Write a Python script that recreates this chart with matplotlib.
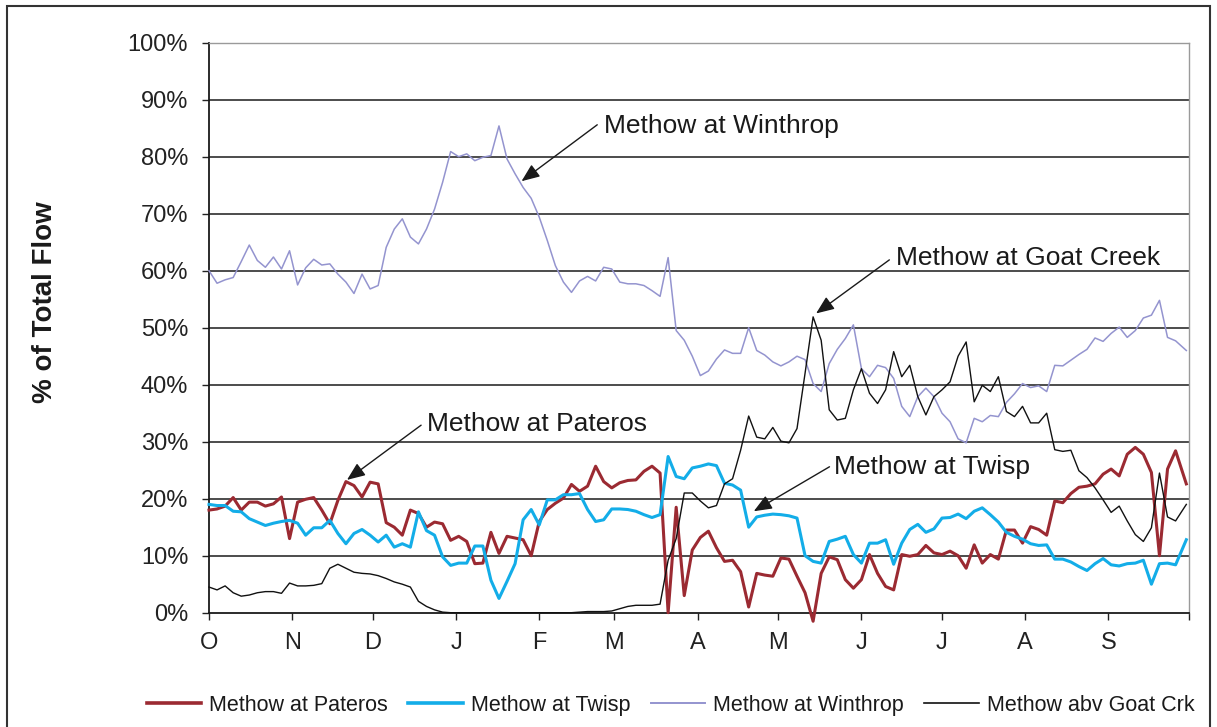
import matplotlib
matplotlib.use("Agg")
import matplotlib.pyplot as plt
from matplotlib.lines import Line2D
from matplotlib.patches import Rectangle

plt.rcParams['font.family'] = ['Liberation Sans', 'DejaVu Sans']

# ---------------- data (day of water year, % of total flow) ----------------
days = list(range(0, 361, 3)) + [364]

month_starts = [0, 31, 61, 92, 123, 151, 182, 212, 243, 273, 304, 335, 365]
month_labels = ['O', 'N', 'D', 'J', 'F', 'M', 'A', 'M', 'J', 'J', 'A', 'S', '']
ytick_vals = [0, 10, 20, 30, 40, 50, 60, 70, 80, 90, 100]
ytick_labels = ['0%', '10%', '20%', '30%', '40%', '50%', '60%', '70%', '80%', '90%', '100%']

pateros = [18, 18.2, 18.7, 20.2, 18, 19.4, 19.4, 18.7, 19.1, 20.3,
           13, 19.4, 19.9, 20.2, 18, 15.6, 19.7, 23, 22.3, 20.3,
           22.9, 22.6, 15.8, 15, 13.6, 18, 17.4, 15, 15.9, 15.6,
           12.7, 13.4, 12.5, 8.6, 8.7, 14.1, 10.4, 13.4, 13.1, 12.8,
           10, 16, 18.1, 19.2, 20.1, 22.5, 21.3, 22.2, 25.7, 23,
           21.9, 22.8, 23.2, 23.3, 24.8, 25.7, 24.5, 0, 18.5, 3,
           11, 13.2, 14.3, 11.4, 9, 9.2, 7.2, 1, 6.9, 6.6,
           6.4, 9.6, 9.4, 6.4, 3.5, -1.5, 6.9, 9.8, 9.3, 5.8,
           4.3, 5.8, 10.2, 6.9, 4.6, 4, 10.2, 9.9, 10.2, 11.8,
           10.5, 10.2, 10.8, 10, 7.8, 11.9, 8.7, 10.2, 9.4, 14.5,
           14.5, 12.2, 15.1, 14.6, 13.6, 19.6, 19.3, 20.9, 22, 22.2,
           22.6, 24.3, 25.2, 24, 27.8, 29, 27.8, 24.6, 10, 25.2,
           28.4, 22.6]

twisp = [19, 18.8, 18.8, 17.8, 17.7, 16.5, 15.9, 15.3, 15.7, 16,
         16.2, 15.7, 13.6, 14.9, 14.9, 16.2, 13.9, 12.1, 13.9, 14.6,
         13.6, 12.4, 13.6, 11.5, 12.1, 11.5, 17.7, 14.4, 13.6, 9.8,
         8.3, 8.7, 8.7, 11.7, 11.7, 5.7, 2.5, 5.5, 8.6, 16.3,
         18.1, 15.4, 19.8, 19.8, 20.7, 20.7, 20.9, 18.1, 16, 16.3,
         18.2, 18.2, 18.1, 17.8, 17.2, 16.7, 17.2, 27.4, 23.9, 23.5,
         25.4, 25.7, 26.1, 25.8, 22.7, 22.4, 21.5, 15, 16.8, 17.1,
         17.3, 17.2, 17, 16.6, 10, 9, 8.7, 12.5, 12.9, 13.4,
         10.2, 8.7, 12.2, 12.2, 12.8, 8.5, 12.2, 14.6, 15.5, 14.1,
         14.7, 16.6, 16.7, 17.3, 16.5, 17.8, 18.4, 17.2, 15.9, 14.1,
         13.4, 12.9, 12.1, 11.8, 11.9, 9.4, 9.4, 8.9, 8.1, 7.4,
         8.6, 9.5, 8.4, 8.2, 8.6, 8.7, 9.2, 5, 8.6, 8.7,
         8.4, 12.8]

winthrop = [60, 57.8, 58.4, 58.8, 61.6, 64.5, 61.8, 60.6, 62.4, 60.3,
            63.5, 57.5, 60.5, 62, 61, 61.2, 59.4, 58, 56, 59.4,
            56.8, 57.4, 64.1, 67.3, 69.1, 65.9, 64.7, 67.3, 70.8, 75.5,
            80.9, 80, 80.5, 79.3, 79.9, 80.2, 85.4, 79.6, 77, 74.6,
            72.7, 69.4, 65.3, 60.9, 58, 56.2, 58.2, 59, 58.2, 60.6,
            60.3, 58, 57.7, 57.7, 57.4, 56.5, 55.5, 62.3, 49.5, 47.8,
            45, 41.6, 42.4, 44.5, 46.1, 45.5, 45.5, 50, 46, 45.2,
            44, 43.3, 44, 45, 44.4, 40.2, 38.8, 43.7, 46.2, 48.1,
            50.5, 42.8, 41.4, 43.4, 43, 41.1, 36.2, 34.4, 37.9, 39.4,
            37.9, 35, 33.5, 30.5, 29.8, 34.1, 33.5, 34.6, 34.4, 36.9,
            38.4, 40.2, 39.5, 39.8, 38.8, 43.4, 43.3, 44.3, 45.3, 46.2,
            48.2, 47.6, 49, 50.1, 48.3, 49.5, 51.7, 52.2, 54.8, 48.3,
            47.7, 46]

goat = [4.5, 4, 4.7, 3.5, 2.9, 3.1, 3.5, 3.7, 3.7, 3.4,
        5.2, 4.7, 4.7, 4.8, 5.1, 7.8, 8.5, 7.8, 7.1, 6.9,
        6.8, 6.5, 6, 5.4, 5, 4.5, 2, 1.1, 0.5, 0.1,
        0, 0, 0, 0, 0, 0, 0, 0, 0, 0,
        0, 0, 0, 0, 0, 0, 0.1, 0.2, 0.2, 0.2,
        0.3, 0.7, 1.1, 1.3, 1.3, 1.3, 1.5, 9.2, 13, 21,
        21, 19.6, 18.4, 18.8, 22.6, 23.5, 28.5, 34.5, 30.8, 30.5,
        32.5, 30.1, 29.8, 32.3, 42, 51.9, 47.8, 35.6, 33.8, 34.1,
        39.1, 42.8, 38.5, 36.7, 39.1, 45.8, 41.4, 43.4, 37.9, 34.7,
        37.9, 39.1, 40.5, 45, 47.5, 37, 39.9, 38.8, 41.4, 35.3,
        34.4, 36.2, 33.3, 33.3, 35, 28.6, 28.3, 28.5, 24.9, 23.7,
        21.9, 19.8, 17.6, 18.7, 16.1, 13.7, 12.5, 14.9, 24.5, 16.8,
        16.1, 19]

series_names = ['Methow at Pateros', 'Methow at Twisp', 'Methow at Winthrop', 'Methow abv Goat Crk']

# ---------------- figure ----------------
fig = plt.figure(figsize=(12.17, 7.27), dpi=100)
ax = fig.add_axes([209 / 1217, 1 - 612.7 / 727, 980 / 1217, 570 / 727])

c_pat, c_twi, c_win, c_goat = '#9B2A32', '#13ADE8', '#9494CF', '#111111'
lw_pat, lw_twi, lw_win, lw_goat = 2.2, 2.2, 1.1, 1.0

ax.plot(days, pateros, color=c_pat, lw=lw_pat, clip_on=False, zorder=3)
ax.plot(days, twisp, color=c_twi, lw=lw_twi, clip_on=False, zorder=4)
ax.plot(days, winthrop, color=c_win, lw=lw_win, clip_on=False, zorder=5)
ax.plot(days, goat, color=c_goat, lw=lw_goat, clip_on=False, zorder=6)

ax.set_xlim(0, 365)
ax.set_ylim(0, 100)
ax.set_xticks(month_starts)
ax.set_xticklabels(month_labels)
ax.set_yticks(ytick_vals)
ax.set_yticklabels(ytick_labels)
ax.tick_params(axis='both', direction='out', length=5, width=1.0, colors='#222222',
               labelsize=17, labelcolor='#222222')
ax.tick_params(axis='x', pad=9)
ax.tick_params(axis='y', pad=10)

ax.yaxis.grid(True, color='#2e2e2e', lw=1.2, zorder=1)
ax.set_axisbelow(True)
ax.get_ygridlines()[-1].set_color('#9a9a9a')
ax.get_ygridlines()[0].set_visible(False)

for s in ['left', 'bottom']:
    ax.spines[s].set_color('#1a1a1a')
    ax.spines[s].set_linewidth(1.3)
for s in ['top', 'right']:
    ax.spines[s].set_color('#9a9a9a')
    ax.spines[s].set_linewidth(1.0)

# y-axis title
fig.text(45 / 1217, 1 - 302 / 727, '% of Total Flow', rotation=90, fontsize=20,
         fontweight='bold', ha='center', va='center', color='#1a1a1a')

# annotations
arrow_kw = dict(arrowstyle='-|>,head_length=1.1,head_width=0.45', color='#1a1a1a',
                lw=1.0, shrinkA=0, shrinkB=0)
ann = [
    ('Methow at Winthrop', (147.0, 85.4), (144.6, 85.6), (116.4, 75.7)),
    ('Methow at Goat Creek', (256.0, 62.2), (253.4, 61.9), (226.1, 52.5)),
    ('Methow at Pateros', (81.3, 33.1), (79.0, 32.9), (51.4, 23.3)),
    ('Methow at Twisp', (232.8, 25.6), (231.1, 25.6), (202.9, 17.8)),
]
for label, tpos, tail, tip in ann:
    ax.annotate('', xy=tip, xytext=tail, arrowprops=arrow_kw, zorder=8)
    ax.text(tpos[0], tpos[1], label, fontsize=19, ha='left', va='center',
            color='#1a1a1a', zorder=8)

# legend
handles = [Line2D([], [], color=c_pat, lw=lw_pat + 0.4),
           Line2D([], [], color=c_twi, lw=lw_twi + 0.4),
           Line2D([], [], color=c_win, lw=lw_win + 0.3),
           Line2D([], [], color=c_goat, lw=lw_goat + 0.2)]
fig.legend(handles, series_names, loc='center', bbox_to_anchor=(0.551, 0.030),
           ncol=4, frameon=False, fontsize=15.5, handlelength=2.55,
           handletextpad=0.37, columnspacing=0.93, labelcolor='#1a1a1a')

# outer frame
fig.patches.append(Rectangle((6.7 / 1217, -0.05), (1210 - 6.7) / 1217, 1.05 - 5.7 / 727,
                             transform=fig.transFigure, fill=False,
                             edgecolor='#333333', lw=1.5))

fig.savefig('out.png', dpi=100)
